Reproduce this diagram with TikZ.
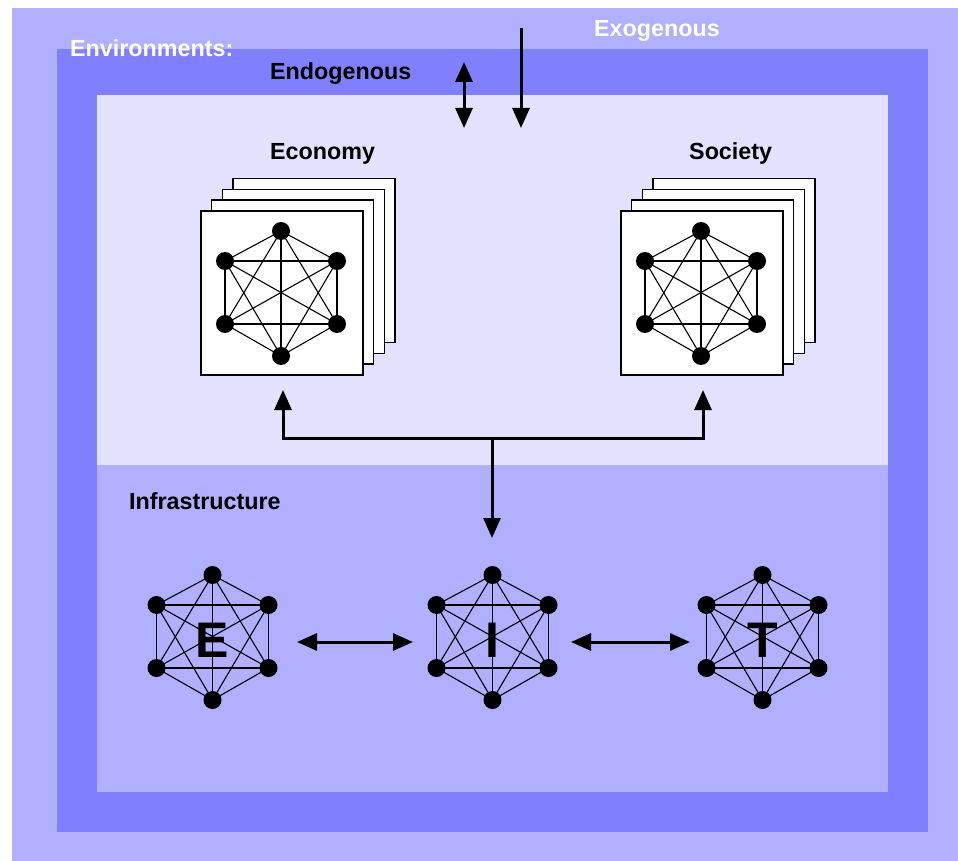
\documentclass[tikz,border=0pt]{standalone}
\usepackage{fontspec}
\setmainfont{Liberation Sans}
\usetikzlibrary{arrows.meta}
\definecolor{outerC}{HTML}{B0B0FF}
\definecolor{midC}{HTML}{8080FF}
\definecolor{lightC}{HTML}{E2E2FF}
\tikzset{
  lbl/.style={font=\fontsize{23.3}{28}\selectfont\bfseries, anchor=base west, inner sep=0pt},
  bigletter/.style={font=\fontsize{50}{56}\selectfont\bfseries, inner sep=0pt},
  dot/.style={circle, fill=black, inner sep=0pt, minimum size=18pt},
  edge/.style={line width=1.1pt},
  sheet/.style={rectangle, draw=black, fill=white, line width=1.1pt, minimum width=162pt, minimum height=164pt, inner sep=0pt},
  arrowline/.style={line width=3pt},
  onearrow/.style={arrowline, -{Triangle[length=20pt,width=17pt]}},
  twoarrow/.style={arrowline, {Triangle[length=20pt,width=17pt]}-{Triangle[length=20pt,width=17pt]}}
}
\newcommand{\kgraph}[3]{%
  \node[dot] (#1-1) at (#2,#3-62) {};
  \node[dot] (#1-2) at (#2+56,#3-32) {};
  \node[dot] (#1-3) at (#2+56,#3+31) {};
  \node[dot] (#1-4) at (#2,#3+63) {};
  \node[dot] (#1-5) at (#2-56,#3+31) {};
  \node[dot] (#1-6) at (#2-56,#3-32) {};
  \foreach \a/\b in {1/2,1/3,1/4,1/5,1/6,2/3,2/4,2/5,2/6,3/4,3/5,3/6,4/5,4/6,5/6}
    \draw[edge] (#1-\a.center) -- (#1-\b.center);
}
\begin{document}
\begin{tikzpicture}[x=1pt,y=-1pt]
\useasboundingbox (0,0) rectangle (958,861);
% environments
\fill[outerC] (12,8) rectangle (958,861);
\fill[midC] (57,49) rectangle (928,832);
\fill[lightC] (97,95) rectangle (888,465);
\fill[outerC] (97,465) rectangle (888,792);
% labels
\node[lbl, text=white] (envlbl) at (70,57) {Environments:};
\node[lbl, text=white] (exolbl) at (594,37) {Exogenous};
\node[lbl] (endolbl) at (270,80) {Endogenous};
\node[lbl] (ecolbl) at (270,160) {Economy};
\node[lbl] (soclbl) at (689,160) {Society};
\node[lbl] (infralbl) at (129,509) {Infrastructure};
% top arrows
\coordinate (endoA) at (464,62);
\coordinate (endoB) at (464,128);
\coordinate (exoA) at (521,28);
\coordinate (exoB) at (521,128);
\draw[twoarrow] (endoA) -- (endoB);
\draw[onearrow] (exoA) -- (exoB);
% economy stack
\node[sheet] (eco4) at (314,260.7) {};
\node[sheet] (eco3) at (303.3,271.3) {};
\node[sheet] (eco2) at (292.7,282) {};
\node[sheet] (eco1) at (282,293) {};
\kgraph{ecoG}{281}{293}
% society stack
\node[sheet] (soc4) at (734,260.7) {};
\node[sheet] (soc3) at (723.3,271.3) {};
\node[sheet] (soc2) at (712.7,282) {};
\node[sheet] (soc1) at (702,293) {};
\kgraph{socG}{701}{293}
% infrastructure networks
\kgraph{E}{212.5}{637}
\kgraph{I}{492.5}{637}
\kgraph{T}{762.5}{637}
\node[bigletter] (Elet) at (212.5,640) {E};
\node[bigletter] (Ilet) at (492.5,640) {I};
\node[bigletter] (Tlet) at (762.5,640) {T};
% tree connector
\coordinate (hub) at (492,438);
\coordinate (ecoIn) at (283,390);
\coordinate (socIn) at (703,390);
\coordinate (iIn) at (492,538);
\draw[onearrow] (hub) -- (iIn);
\draw[onearrow] (hub) -| (ecoIn);
\draw[onearrow] (hub) -| (socIn);
% horizontal arrows
\coordinate (eiA) at (297,642);
\coordinate (eiB) at (413,642);
\coordinate (itA) at (571,642);
\coordinate (itB) at (690,642);
\draw[twoarrow] (eiA) -- (eiB);
\draw[twoarrow] (itA) -- (itB);
\end{tikzpicture}
\end{document}
